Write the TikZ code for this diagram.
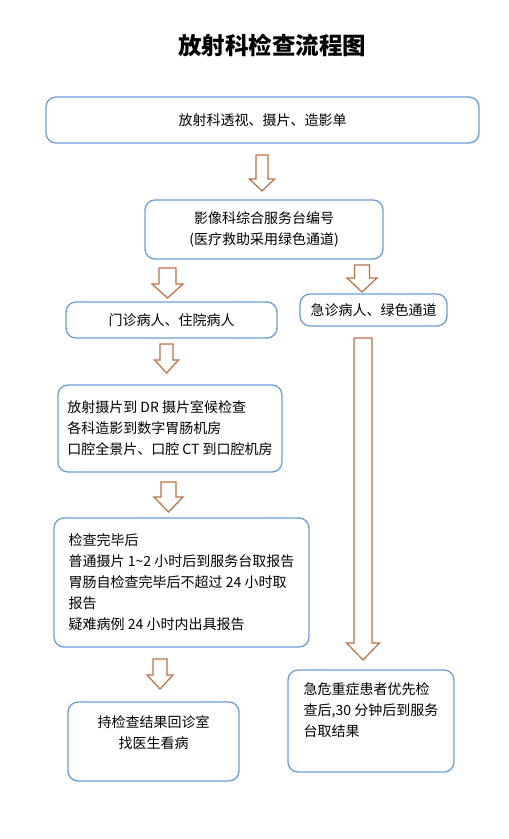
\documentclass[tikz,border=0pt]{standalone}
\usepackage{fontspec}
\newfontfamily\cjk{Noto Sans CJK SC}
\definecolor{boxblue}{RGB}{104,158,220}
\definecolor{arrowbrown}{RGB}{192,112,64}

% hollow block arrow pointing down: x, top, head start, tip, shaft half width, head half width
\newcommand{\blockdown}[6]{%
  \draw[blockarrow] (#1-#5,#2) -- (#1+#5,#2) -- (#1+#5,#3) -- (#1+#6,#3) -- (#1,#4)
    -- (#1-#6,#3) -- (#1-#5,#3) -- cycle;}

\begin{document}
\begin{tikzpicture}[x=1pt, y=-1pt,
  every node/.style={font=\cjk\fontsize{14}{21}\selectfont},
  box/.style={draw=boxblue, line width=1.3pt, rounded corners=10pt, inner sep=0pt, align=center},
  blockarrow/.style={draw=arrowbrown, line width=1.2pt, fill=white}]

  \useasboundingbox (0,0) rectangle (509,839);

  % title
  \node[font=\cjk\bfseries\fontsize{23.5}{28}\selectfont] (title) at (272,45) {放射科检查流程图};

  % boxes
  \node[box, minimum width=433pt, minimum height=46pt] (order) at (262.5,120) {放射科透视、摄片、造影单};
  \node[box, minimum width=238pt, minimum height=59pt] (desk) at (264,229.5) {影像科综合服务台编号\\(医疗救助采用绿色通道)};
  \node[box, minimum width=211pt, minimum height=36pt] (outpat) at (171.5,320) {门诊病人、住院病人};
  \node[box, minimum width=147pt, minimum height=32pt] (emerg) at (373.5,310) {急诊病人、绿色通道};
  \node[box, align=left, minimum width=224pt, minimum height=87pt] (rooms) at (170,428.5)
    {放射摄片到 DR 摄片室候检查\\各科造影到数字胃肠机房\\口腔全景片、口腔 CT 到口腔机房};
  \node[box, align=left, minimum width=255pt, minimum height=129pt] (report) at (181.5,582.5)
    {检查完毕后\\普通摄片 1\textasciitilde 2 小时后到服务台取报告\\胃肠自检查完毕后不超过 24 小时取\\报告\\疑难病例 24 小时内出具报告};
  \node[box, minimum width=171pt, minimum height=79pt] (back) at (153.5,741.5) {};
  \node[align=center] (backtext) at ([yshift=9pt]back.center) {持检查结果回诊室\\找医生看病};
  \node[box, minimum width=166pt, minimum height=102pt] (urgent) at (371,721) {};
  \node[align=left] (urgenttext) at ([yshift=11pt]urgent.center) {急危重症患者优先检\\查后,30 分钟后到服务\\台取结果};

  % arrows
  \blockdown{262}{155}{179}{191}{6}{12.5}       % order -> desk
  \blockdown{167.5}{268}{284}{298}{8.5}{15.5}   % desk -> outpat
  \blockdown{362}{265}{278}{292}{7.5}{15}       % desk -> emerg
  \blockdown{166.5}{344}{360}{373}{6.5}{12}     % outpat -> rooms
  \blockdown{168.5}{482}{497}{512}{7.5}{14.5}   % rooms -> report
  \blockdown{160}{659}{675}{689}{7}{13}         % report -> back
  \blockdown{363}{338}{643}{660}{9}{16.5}       % emerg -> urgent (long)

\end{tikzpicture}
\end{document}
